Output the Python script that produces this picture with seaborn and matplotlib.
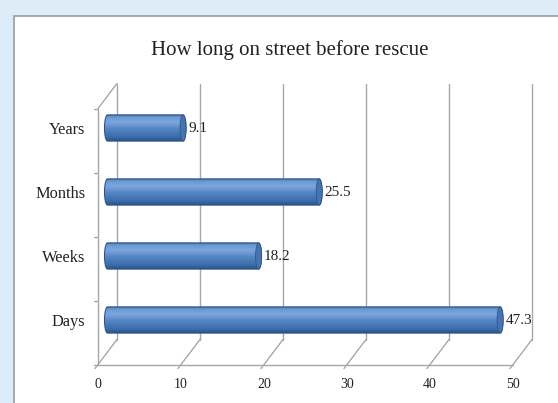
import numpy as np
import matplotlib
matplotlib.use("Agg")
import matplotlib.pyplot as plt
import seaborn as sns
from matplotlib.patches import Rectangle, PathPatch, Ellipse
from matplotlib.path import Path
from matplotlib.colors import LinearSegmentedColormap

# Data
categories = ["Years", "Months", "Weeks", "Days"]
values = [9.1, 25.5, 18.2, 47.3]
x_ticks = [0, 10, 20, 30, 40, 50]
title = "How long on street before rescue"

sns.set_theme(style="white")
plt.rcParams["font.family"] = ["Liberation Serif", "DejaVu Serif"]

W, H, DPI = 558, 403, 100
fig = plt.figure(figsize=(W / DPI, H / DPI), dpi=DPI)
fig.patch.set_facecolor("#dcedf9")

# white chart panel with grey border
fig.add_artist(Rectangle((14 / W, -0.1), 1.2, 1.1 - 16 / H, transform=fig.transFigure,
                         facecolor="white", edgecolor="#9c9c9c", lw=1.2, zorder=0))

# axes at the mid-depth plane of the 3-D box (a little room left of zero for the bar caps)
XMIN, XMAX = -0.6, 50
ppu = 8.3  # pixels per unit
x_left = 107.5 + XMIN * ppu
ax = fig.add_axes([x_left / W, 1 - 352 / H, (XMAX - XMIN) * ppu / W, 256 / H])
ax.patch.set_alpha(0)

sns.barplot(x=values, y=categories, orient="h", order=categories, width=0.41,
            color="#4f81bd", ax=ax, zorder=3)
ax.set_xlim(XMIN, XMAX)
ax.set_ylim(3.5, -0.5)
for s in ax.spines.values():
    s.set_visible(False)
ax.set_xlabel("")
ax.set_ylabel("")
ax.set_xticks([])
ax.tick_params(axis="y", length=0, pad=12.5, labelsize=11.8, labelcolor="#222222")

# depth offsets (pixels) of the back and front planes
DX, DY = 9.5, 12.5


def shift(x, y, dx, dy):
    d = ax.transData.transform((x, y)) + np.array([dx, dy])
    return ax.transData.inverted().transform(d)


grid_kw = dict(color="#a8a8a8", lw=1.0, clip_on=False, zorder=1)
y_top, y_bot = -0.5, 3.5

for t in x_ticks:
    # back wall gridline
    b0 = shift(t, y_top, DX, DY)
    b1 = shift(t, y_bot, DX, DY)
    ax.plot([b0[0], b1[0]], [b0[1], b1[1]], **grid_kw)
    # floor line towards the front, with a short overhang
    f1 = shift(t, y_bot, -DX - 3, -DY - 4)
    ax.plot([b1[0], f1[0]], [b1[1], f1[1]], **grid_kw)
    # front tick label
    lp = shift(t, y_bot, -DX, -DY - 20)
    ax.text(lp[0], lp[1], str(t), ha="center", va="center", fontsize=10,
            color="#222222", clip_on=False)

# front edge of the floor
f0 = shift(0, y_bot, -DX, -DY)
f5 = shift(50, y_bot, -DX, -DY)
ax.plot([f0[0], f5[0]], [f0[1], f5[1]], **grid_kw)

# left wall: front edge, top edge, category separators
w0 = shift(0, y_top, -DX, -DY)
ax.plot([w0[0], f0[0]], [w0[1], f0[1]], **grid_kw)
bt = shift(0, y_top, DX, DY)
ax.plot([w0[0], bt[0]], [w0[1], bt[1]], **grid_kw)
for yb in [-0.5, 0.5, 1.5, 2.5, 3.5]:
    a = shift(0, yb, -DX, -DY)
    c = shift(0, yb, -DX - 4, -DY)
    ax.plot([c[0], a[0]], [c[1], a[1]], **grid_kw)

# cylinder-style shading of the bars
cmap = LinearSegmentedColormap.from_list("cyl", [
    (0.0, "#3f6ca6"), (0.12, "#6c99d2"), (0.3, "#7ca7dc"),
    (0.55, "#5586c3"), (0.85, "#3f6ca8"), (1.0, "#2b5487")])
px_per_unit = (ax.transData.transform((1, 0)) - ax.transData.transform((0, 0)))[0]
rx = 3.0 / px_per_unit
grad = np.linspace(0, 1, 128)[:, None]

for patch in list(ax.patches):
    x0, y0 = patch.get_x(), patch.get_y()
    w, h = patch.get_width(), patch.get_height()
    x1, yc, ry = x0 + w, y0 + h / 2, h / 2
    patch.set_facecolor("none")
    patch.set_edgecolor("none")
    t = np.linspace(0, np.pi, 30)
    right = np.column_stack([x1 + rx * np.sin(t), yc + ry * np.cos(t)])
    left = np.column_stack([x0 - rx * np.sin(t), yc - ry * np.cos(t)])
    verts = np.vstack([right, left, right[:1]])
    outline = PathPatch(Path(verts), facecolor="none", edgecolor="#2d578c",
                        lw=0.8, zorder=5, clip_on=False)
    ax.add_patch(outline)
    im = ax.imshow(grad, cmap=cmap, aspect="auto", interpolation="bilinear",
                   extent=(x0 - rx, x1 + rx, y0 + h, y0), origin="upper", zorder=4)
    im.set_clip_path(outline)
    ax.add_patch(Ellipse((x1, yc), 2 * rx, h, facecolor="#4674b2",
                         edgecolor="#2d578c", lw=0.6, zorder=6, clip_on=False))

ax.set_xlim(XMIN, XMAX)
ax.set_ylim(3.5, -0.5)

ax.bar_label(ax.containers[0], labels=[f"{v:.1f}" for v in values], padding=4,
             fontsize=11, color="#222222")

fig.text(290 / W, 1 - 50 / H, title, ha="center", va="center", fontsize=15,
         color="#222222")

fig.savefig("out.png", dpi=DPI, facecolor=fig.get_facecolor())
